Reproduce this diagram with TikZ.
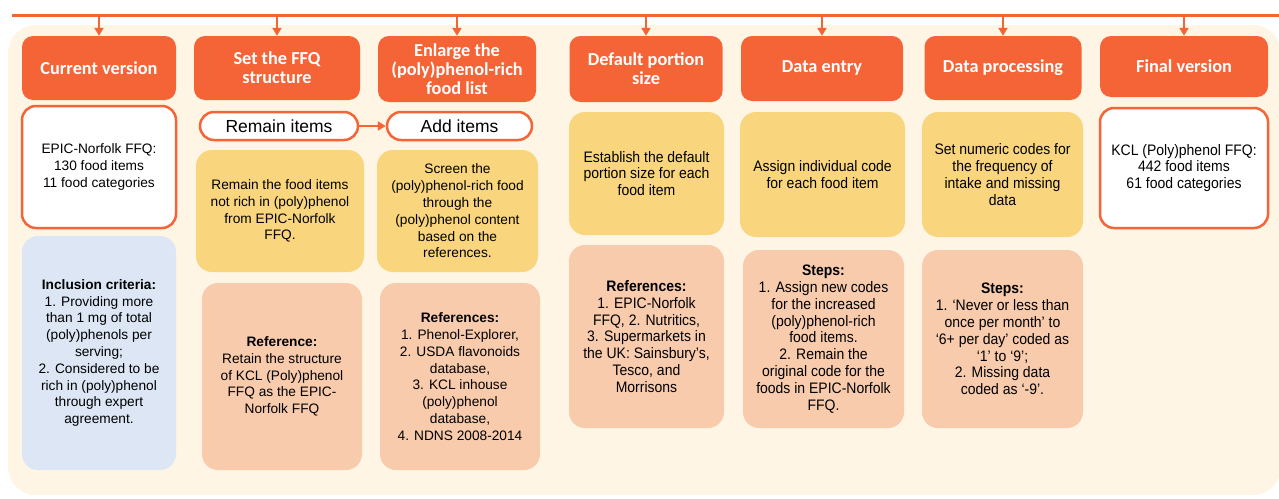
\documentclass[tikz,border=0pt]{standalone}
\usepackage{fontspec}
\setmainfont{Liberation Sans}
\newfontfamily\hfont{Carlito}
\newfontfamily\nfont[FakeStretch=0.92]{Liberation Sans}
\usetikzlibrary{arrows.meta}
\definecolor{orng}{RGB}{245,100,55}
\definecolor{ylw}{RGB}{249,214,126}
\definecolor{pch}{RGB}{248,203,173}
\definecolor{blu}{RGB}{220,230,244}
\definecolor{crm}{RGB}{254,245,228}
\newcommand{\bodyf}{\fontsize{13.7}{16.8}\selectfont}
\newcommand{\narf}{\nfont\fontsize{15.2}{16.8}\selectfont}
\tikzset{
  hdr/.style={fill=orng, text=white, rounded corners=11pt, align=center, inner sep=0pt,
    font=\hfont\bfseries\fontsize{18.3}{19}\selectfont},
  wbox/.style={draw=orng, line width=2.5pt, fill=white, rounded corners=14pt, align=center, inner sep=0pt, font=\bodyf},
  pill/.style={draw=orng, line width=2.5pt, fill=white, rounded corners=14pt, align=center, inner sep=0pt,
    font=\fontsize{17.5}{20}\selectfont},
  ybox/.style={fill=ylw, rounded corners=16pt, align=center, inner sep=0pt, font=\bodyf},
  pbox/.style={fill=pch, rounded corners=16pt, align=center, inner sep=0pt, font=\bodyf},
  bbox/.style={fill=blu, rounded corners=16pt, align=center, inner sep=0pt, font=\bodyf},
  arr/.style={draw=orng, line width=2pt, -{Triangle[length=8pt,width=9pt]}},
}
\begin{document}
\begin{tikzpicture}[x=1pt,y=-1pt]
\useasboundingbox (0,0) rectangle (1279,498);
% background panel
\fill[crm, rounded corners=28pt] (8,25) rectangle (1281,495);
% top line
\coordinate (tl) at (12,15);
\coordinate (tr) at (1279,15);
\draw[orng, line width=3pt] (tl) -- (tr);
% headers
\node[hdr, minimum width=154pt, minimum height=64pt] (cur) at (99,68) {Current version};
\node[hdr, minimum width=166pt, minimum height=64pt] (set) at (277,68) {Set the FFQ\\structure};
\node[hdr, minimum width=158pt, minimum height=66pt] (enl) at (457,69) {Enlarge the\\(poly)phenol-rich\\food list};
\node[hdr, minimum width=153pt, minimum height=66pt] (def) at (646,69) {Default portion\\size};
\node[hdr, minimum width=162pt, minimum height=65pt] (ent) at (822,68.5) {Data entry};
\node[hdr, minimum width=157pt, minimum height=64pt] (proc) at (1003,68) {Data processing};
\node[hdr, minimum width=168pt, minimum height=61pt] (fin) at (1184,66.5) {Final version};
\foreach \n in {cur,set,enl,def,ent,proc,fin}
  \draw[arr] (\n.north |- tl) -- (\n.north);
% second row
\node[wbox, minimum width=154pt, minimum height=122pt] (epic) at (99,167) {EPIC-Norfolk FFQ:\\130 food items\\11 food categories};
\node[pill, minimum width=158pt, minimum height=28pt] (rem) at (279,126) {Remain items};
\node[pill, minimum width=145pt, minimum height=28pt] (add) at (459.5,126) {Add items};
\draw[orng, line width=2.5pt, -{Triangle[length=8pt,width=9pt]}] (rem) -- (add);
\node[ybox, minimum width=168pt, minimum height=122pt] (y1) at (280,211) {Remain the food items\\not rich in (poly)phenol\\from EPIC-Norfolk\\FFQ.};
\node[ybox, minimum width=161pt, minimum height=122pt] (y2) at (457.5,211) {Screen the\\(poly)phenol-rich food\\through the\\(poly)phenol content\\based on the\\references.};
\node[ybox, font=\narf, minimum width=155pt, minimum height=123pt] (ydef) at (646.5,173.5) {Establish the default\\portion size for each\\food item};
\node[ybox, font=\narf, minimum width=165pt, minimum height=125pt] (yent) at (822.5,174.5) {Assign individual code\\for each food item};
\node[ybox, font=\narf, minimum width=161pt, minimum height=125pt] (yproc) at (1002.5,174.5) {Set numeric codes for\\the frequency of\\intake and missing\\data};
\node[wbox, font=\narf, minimum width=168pt, minimum height=120pt] (kcl) at (1184,168) {KCL (Poly)phenol FFQ:\\442 food items\\61 food categories};
% third row
\node[bbox, minimum width=154pt, minimum height=234pt] (incl) at (99,353) {{\bfseries Inclusion criteria:}\\1. Providing more\\than 1 mg of total\\(poly)phenols per\\serving;\\2. Considered to be\\rich in (poly)phenol\\through expert\\agreement.};
\node[pbox, minimum width=160pt, minimum height=187pt] (p1) at (282,376.5) {{\bfseries Reference:}\\Retain the structure\\of KCL (Poly)phenol\\FFQ as the EPIC-\\Norfolk FFQ};
\node[pbox, minimum width=160pt, minimum height=187pt] (p2) at (460,376.5) {{\bfseries References:}\\1. Phenol-Explorer,\\2. USDA flavonoids\\database,\\3. KCL inhouse\\(poly)phenol\\database,\\4. NDNS 2008-2014};
\node[pbox, font=\narf, minimum width=155pt, minimum height=183pt] (p3) at (646.5,336.5) {{\bfseries References:}\\1. EPIC-Norfolk\\FFQ, 2. Nutritics,\\3. Supermarkets in\\the UK: Sainsbury’s,\\Tesco, and\\Morrisons};
\node[pbox, font=\narf, minimum width=161pt, minimum height=178pt] (p4) at (823.5,339) {{\bfseries Steps:}\\1. Assign new codes\\for the increased\\(poly)phenol-rich\\food items.\\2. Remain the\\original code for the\\foods in EPIC-Norfolk\\FFQ.};
\node[pbox, font=\narf, minimum width=161pt, minimum height=178pt] (p5) at (1002.5,339) {{\bfseries Steps:}\\1. ‘Never or less than\\once per month’ to\\‘6+ per day’ coded as\\‘1’ to ‘9’;\\2. Missing data\\coded as ‘-9’.};
\end{tikzpicture}
\end{document}
